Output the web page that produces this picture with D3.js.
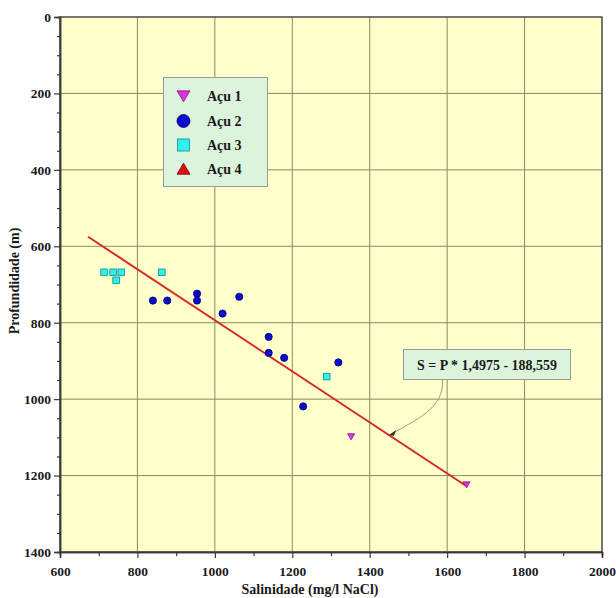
<!DOCTYPE html>
<html>
<head>
<meta charset="utf-8">
<script src="https://cdn.jsdelivr.net/npm/d3@7"></script>
<style>
  html, body { margin: 0; padding: 0; background: #ffffff; }
  svg { display: block; }
  text { font-family: "Liberation Serif", "Times New Roman", serif; font-weight: bold; fill: #1a1a1a; }
</style>
</head>
<body>
<svg id="chart" width="616" height="598"></svg>
<script>
// Salinity (mg/l NaCl) and depth (m) per well
const acu1Salinity = [1352, 1650];
const acu1Depth    = [1098, 1224];

const acu2Salinity = [840, 877, 954, 954, 1063, 1020, 1139, 1139, 1179, 1319, 1228];
const acu2Depth    = [742, 742, 724, 742, 732, 776, 837, 879, 892, 904, 1019];

const acu3Salinity = [714, 737, 758, 745, 863, 1289];
const acu3Depth    = [668, 668, 668, 689, 668, 941];

const acu4Salinity = [];
const acu4Depth    = [];

const seriesNames = ["Açu 1", "Açu 2", "Açu 3", "Açu 4"];

// Regression: S = P * 1,4975 - 188,559
const fitSlope = 1.4975;
const fitIntercept = -188.559;
const fitDepthRange = [575, 1226];
const fitLabel = "S = P * 1,4975 - 188,559";

const xTicks = [600, 800, 1000, 1200, 1400, 1600, 1800, 2000];
const yTicks = [0, 200, 400, 600, 800, 1000, 1200, 1400];

const svg = d3.select("#chart");
const plotL = 60, plotR = 602, plotT = 17, plotB = 552;

const x = d3.scaleLinear().domain([600, 2000]).range([plotL, plotR]);
const y = d3.scaleLinear().domain([0, 1400]).range([plotT, plotB]);

// Plot background
svg.append("rect")
  .attr("x", plotL).attr("y", plotT)
  .attr("width", plotR - plotL).attr("height", plotB - plotT)
  .attr("fill", "#ffffcc");

// Grid lines
const grid = svg.append("g").attr("stroke", "#8a8a66").attr("stroke-width", 1);
grid.selectAll(".gx").data(xTicks.slice(1, -1)).join("line")
  .attr("x1", d => x(d)).attr("x2", d => x(d))
  .attr("y1", plotT).attr("y2", plotB);
grid.selectAll(".gy").data(yTicks.slice(1, -1)).join("line")
  .attr("x1", plotL).attr("x2", plotR)
  .attr("y1", d => y(d)).attr("y2", d => y(d));

// Frame
svg.append("rect")
  .attr("x", plotL).attr("y", plotT)
  .attr("width", plotR - plotL).attr("height", plotB - plotT)
  .attr("fill", "none").attr("stroke", "#4a4a4a").attr("stroke-width", 1.5);

// Axes
svg.append("g").attr("transform", `translate(0,${plotB})`)
  .call(d3.axisBottom(x).tickValues(xTicks).tickSize(6).tickPadding(8).tickFormat(d3.format("d")));
svg.append("g").attr("transform", `translate(0,${plotB})`)
  .call(d3.axisBottom(x).tickValues(d3.range(700, 2000, 200)).tickSize(4).tickFormat(""));
svg.append("g").attr("transform", `translate(${plotL},0)`)
  .call(d3.axisLeft(y).tickValues(yTicks).tickSize(6).tickPadding(3).tickFormat(d3.format("d")));
svg.append("g").attr("transform", `translate(${plotL},0)`)
  .call(d3.axisLeft(y).tickValues(d3.range(50, 1400, 50).filter(v => v % 200 !== 0)).tickSize(3).tickFormat(""));

svg.selectAll(".domain").attr("stroke", "#3a3a3a").attr("stroke-width", 1.5);
svg.selectAll(".tick line").attr("stroke", "#3a3a3a").attr("stroke-width", 1.2);
svg.selectAll(".tick text")
  .attr("font-family", "Liberation Serif, Times New Roman, serif")
  .attr("font-weight", "bold").attr("font-size", 13.5).attr("fill", "#1a1a1a");

// Axis titles
svg.append("text")
  .attr("x", 310).attr("y", 594)
  .attr("text-anchor", "middle").attr("font-size", 14)
  .text("Salinidade (mg/l NaCl)");
svg.append("text")
  .attr("transform", "translate(19,281) rotate(-90)")
  .attr("text-anchor", "middle").attr("font-size", 14)
  .text("Profundidade (m)");

// Regression line
svg.append("line")
  .attr("x1", x(fitDepthRange[0] * fitSlope + fitIntercept)).attr("y1", y(fitDepthRange[0]))
  .attr("x2", x(fitDepthRange[1] * fitSlope + fitIntercept)).attr("y2", y(fitDepthRange[1]))
  .attr("stroke", "#d62a20").attr("stroke-width", 2);

// Marker shapes
const triDown = s => `M${-s},${-s * 0.8}L${s},${-s * 0.8}L0,${s * 0.9}Z`;
const triUp = s => `M${-s},${s * 0.8}L${s},${s * 0.8}L0,${-s * 0.9}Z`;
const styles = [
  { fill: "#dd33dd", stroke: "#8a1a8a", draw: (g, s) => g.append("path").attr("d", triDown(s)) },
  { fill: "#0a0ad0", stroke: "#00006a", draw: (g, s) => g.append("circle").attr("r", s) },
  { fill: "#33f0f0", stroke: "#0a8f8f", draw: (g, s) => g.append("rect").attr("x", -s).attr("y", -s).attr("width", 2 * s).attr("height", 2 * s) },
  { fill: "#e01010", stroke: "#6a0000", draw: (g, s) => g.append("path").attr("d", triUp(s)) }
];
const sizes = [3.6, 3.6, 3.3, 3.6];

const series = [
  d3.zip(acu1Salinity, acu1Depth),
  d3.zip(acu2Salinity, acu2Depth),
  d3.zip(acu3Salinity, acu3Depth),
  d3.zip(acu4Salinity, acu4Depth)
];

series.forEach((pts, i) => {
  pts.forEach(([s, p]) => {
    const g = svg.append("g").attr("transform", `translate(${x(s)},${y(p)})`);
    styles[i].draw(g, sizes[i]).attr("fill", styles[i].fill)
      .attr("stroke", styles[i].stroke).attr("stroke-width", 0.8);
  });
});

// Legend
const legend = svg.append("g");
legend.append("rect")
  .attr("x", 163.5).attr("y", 77.5).attr("width", 104).attr("height", 109)
  .attr("fill", "#ddf4dc").attr("stroke", "#9a9a9a").attr("stroke-width", 1);
const rowY = [96, 121, 145, 169];
seriesNames.forEach((name, i) => {
  const g = legend.append("g").attr("transform", `translate(183.5,${rowY[i]})`);
  styles[i].draw(g, i === 2 ? 6 : 6.5).attr("fill", styles[i].fill)
    .attr("stroke", styles[i].stroke).attr("stroke-width", 0.8);
  legend.append("text").attr("x", 207).attr("y", rowY[i] + 5)
    .attr("font-size", 14).text(name);
});

// Equation callout
const boxX = 403.5, boxY = 349.5, boxW = 167, boxH = 30;
svg.append("rect")
  .attr("x", boxX).attr("y", boxY).attr("width", boxW).attr("height", boxH)
  .attr("fill", "#ddf4dc").attr("stroke", "#9a9a9a").attr("stroke-width", 1);
svg.append("text")
  .attr("x", boxX + boxW / 2).attr("y", boxY + boxH / 2 + 5)
  .attr("text-anchor", "middle").attr("font-size", 14)
  .text(fitLabel);

// Arrow from callout to the fitted line
const arrowDepth = 1094;
const tipX = x(arrowDepth * fitSlope + fitIntercept), tipY = y(arrowDepth);
const startX = 442.5, startY = boxY + boxH;
svg.append("path")
  .attr("d", `M${startX},${startY} C${startX + 2},${startY + 30} ${tipX + 25},${tipY - 15} ${tipX + 3},${tipY - 1}`)
  .attr("fill", "none").attr("stroke", "#9a9a8a").attr("stroke-width", 1);
svg.append("path")
  .attr("d", `M${tipX},${tipY} L${tipX + 7},${tipY - 5} L${tipX + 5},${tipY + 1}Z`)
  .attr("fill", "#333");
</script>
</body>
</html>
